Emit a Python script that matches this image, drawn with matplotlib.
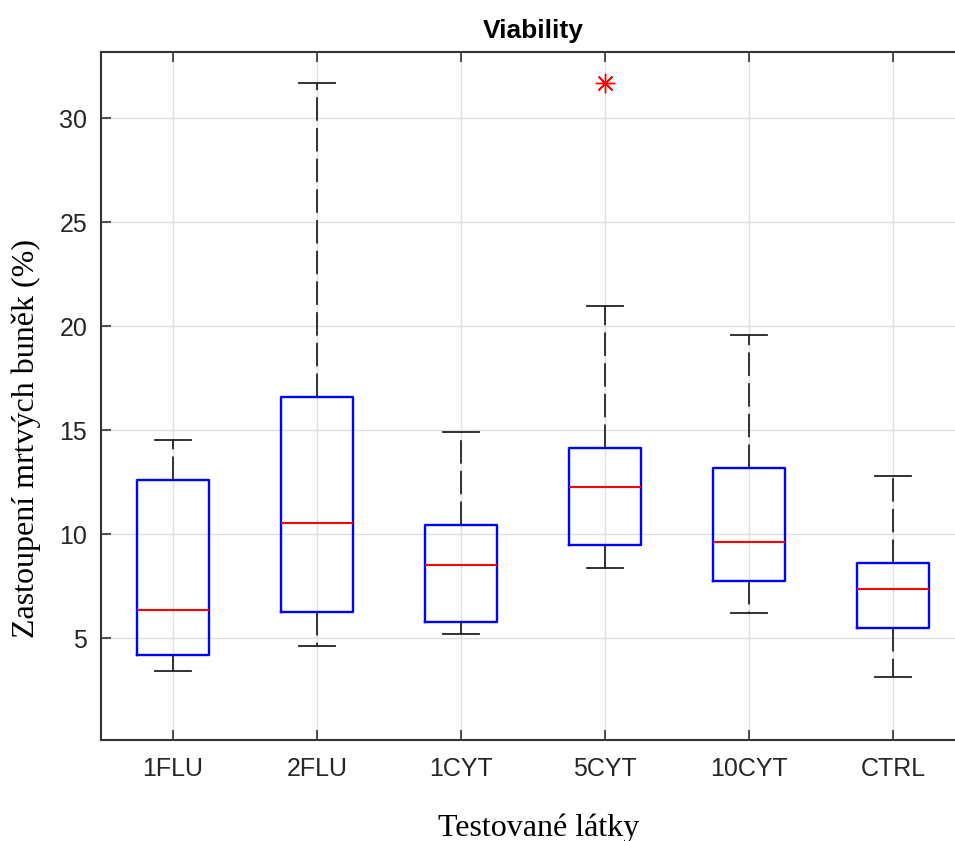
import matplotlib
matplotlib.use('Agg')
import matplotlib.pyplot as plt

# Box statistics
groups = ['1FLU', '2FLU', '1CYT', '5CYT', '10CYT', 'CTRL']
whislo = [3.41, 4.62, 5.19, 8.37, 6.20, 3.13]
q1 = [4.18, 6.25, 5.77, 9.47, 7.74, 5.48]
medians = [6.35, 10.53, 8.51, 12.26, 9.62, 7.36]
q3 = [12.60, 16.60, 10.43, 14.13, 13.17, 8.60]
whishi = [14.52, 31.70, 14.90, 21.00, 19.60, 12.79]
outliers = [[], [], [], [31.70], [], []]
yticks = [5, 10, 15, 20, 25, 30]

stats = []
for i, name in enumerate(groups):
    stats.append({'label': name, 'whislo': whislo[i], 'q1': q1[i], 'med': medians[i],
                  'q3': q3[i], 'whishi': whishi[i], 'fliers': outliers[i]})

fig = plt.figure(figsize=(9.55, 8.41), dpi=100)
# right edge of the axes lies just outside the picture, like the cropped original
ax = fig.add_axes([0.1058, 0.1201, 0.9047, 0.8181])

ax.bxp(stats, positions=range(1, 7), widths=0.5, showfliers=True,
       boxprops=dict(color='#0000ff', linewidth=1.7),
       medianprops=dict(color='#ff0000', linewidth=1.5),
       whiskerprops=dict(color='#222222', linewidth=1.3, linestyle=(0, (13, 4))),
       capprops=dict(color='#222222', linewidth=1.3),
       capwidths=0.25,
       flierprops=dict(marker=(8, 2, 0), markersize=14, markeredgewidth=1.0,
                       markerfacecolor='#ff0000', markeredgecolor='#ff0000',
                       linestyle='none'))

ax.set_xlim(0.5, 6.5)
ax.set_ylim(0.1, 33.2)
ax.set_yticks(yticks)
ax.grid(True, color='#e0e0e0', linewidth=1.0)
ax.set_axisbelow(True)

for side in ['left', 'bottom', 'top', 'right']:
    ax.spines[side].set_color('#333333')
    ax.spines[side].set_linewidth(1.5)

ax.tick_params(direction='in', length=7, width=1.2, color='#333333',
               top=True, right=True, labelsize=18, labelcolor='#262626', pad=10)
for lab in ax.get_xticklabels() + ax.get_yticklabels():
    lab.set_fontfamily('Liberation Sans')
ax.tick_params(axis='x', pad=12)

ax.set_title('Viability', fontsize=19, fontweight='bold', family='Liberation Sans', pad=10)
ax.set_xlabel('Testované látky', fontsize=23, family='Liberation Serif', va='center')
ax.xaxis.set_label_coords(0.506, -0.128)
ax.set_ylabel('Zastoupení mrtvých buněk (%)', fontsize=23, family='Liberation Serif', va='center')
ax.yaxis.set_label_coords(-0.0868, 0.4375)

fig.savefig('out.png', dpi=100)
